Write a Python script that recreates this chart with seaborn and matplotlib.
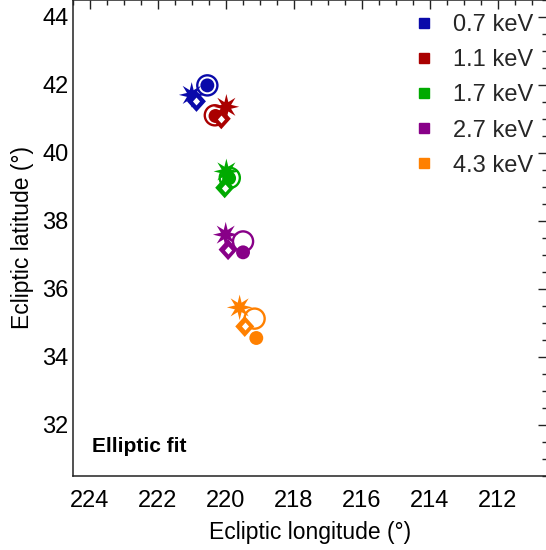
import pandas as pd
import seaborn as sns
import matplotlib.pyplot as plt
from matplotlib.path import Path
from matplotlib.lines import Line2D
from matplotlib.ticker import MultipleLocator

# Positions (ecliptic lon / lat, degrees)
energies = ["0.7 keV", "1.1 keV", "1.7 keV", "2.7 keV", "4.3 keV"]
colors = ["#0a0aaa", "#aa0000", "#00aa00", "#880088", "#ff8000"]

star_lon = [221.00, 219.98, 219.98, 220.00, 219.59]
star_lat = [41.70, 41.35, 39.45, 37.59, 35.45]
diam_lon = [220.86, 220.13, 220.03, 219.93, 219.44]
diam_lat = [41.51, 41.00, 38.97, 37.15, 34.89]
ring_lon = [220.54, 220.32, 219.88, 219.49, 219.15]
ring_lat = [41.98, 41.10, 39.26, 37.39, 35.12]
dot_lon = [220.54, 220.30, 219.90, 219.49, 219.10]
dot_lat = [41.98, 41.08, 39.25, 37.07, 34.55]

df = pd.DataFrame({
    "energy": energies * 4,
    "kind": ["star"] * 5 + ["diamond"] * 5 + ["ring"] * 5 + ["dot"] * 5,
    "lon": star_lon + diam_lon + ring_lon + dot_lon,
    "lat": star_lat + diam_lat + ring_lat + dot_lat,
})
pal = dict(zip(energies, colors))

sns.set_theme(style="white")
plt.rcParams["font.family"] = ["Liberation Sans", "DejaVu Sans"]

fig = plt.figure(figsize=(5.46, 5.5), dpi=100)
ax = fig.add_axes([72.7 / 546, 74.3 / 550, 474.3 / 546, 476 / 550])

star = Path.unit_regular_star(8, 0.4)
diamond = Path([(0, 1), (0.9, 0), (0, -1), (-0.9, 0), (0, 1)], closed=True)

# star
sns.scatterplot(data=df[df.kind == "star"], x="lon", y="lat", hue="energy",
                palette=pal, marker=star, s=340, linewidth=0, legend=False, ax=ax, zorder=3)
# open ring
sns.scatterplot(data=df[df.kind == "ring"], x="lon", y="lat", hue="energy",
                palette=pal, marker="o", s=210, legend=False, ax=ax, zorder=4)
coll = ax.collections[-1]
fc = coll.get_facecolors()
coll.set_edgecolors(fc)
coll.set_facecolors("none")
coll.set_linewidths(1.7)
# filled dot
sns.scatterplot(data=df[df.kind == "dot"], x="lon", y="lat", hue="energy",
                palette=pal, marker="o", s=100, linewidth=0, legend=False, ax=ax, zorder=4)
# diamond: solid body with a small white hole
sns.scatterplot(data=df[df.kind == "diamond"], x="lon", y="lat", hue="energy",
                palette=pal, marker=diamond, s=230, linewidth=0, legend=False, ax=ax, zorder=5)
d = df[df.kind == "diamond"]
ax.scatter(d["lon"], d["lat"], marker=diamond, s=32, color="white", linewidths=0, zorder=6)

ax.set_xlim(224.5, 210.55)
ax.set_ylim(30.5, 44.5)
ax.xaxis.set_major_locator(MultipleLocator(2))
ax.xaxis.set_minor_locator(MultipleLocator(0.5))
ax.yaxis.set_major_locator(MultipleLocator(2))
ax.yaxis.set_minor_locator(MultipleLocator(0.5))
ax.tick_params(which="both", direction="in", top=True, right=True,
               color="#222222", width=1, labelsize=17, labelcolor="black")
ax.tick_params(which="major", length=6.5)
ax.tick_params(which="minor", length=3.5)
ax.tick_params(axis="x", which="major", pad=10)
ax.tick_params(axis="y", which="major", pad=3)
for sp in ax.spines.values():
    sp.set_color("#222222")
    sp.set_linewidth(1.1)

ax.set_xlabel("Ecliptic longitude (°)", fontsize=16.5, color="black", labelpad=7)
ax.set_ylabel("Ecliptic latitude (°)", fontsize=16.5, color="black", labelpad=6)

ax.text(0.04, 0.05, "Elliptic fit", transform=ax.transAxes, fontsize=15,
        fontweight="bold", color="black")

handles = [Line2D([], [], ls="", marker="s", ms=6.5, color=c, label=e)
           for e, c in zip(energies, colors)]
ax.legend(handles=handles, loc="upper right", frameon=False, fontsize=17,
          handletextpad=0.6, handlelength=1.2, labelspacing=0.56,
          borderaxespad=0.2, bbox_to_anchor=(1.0, 1.0))

fig.savefig("out.png", dpi=100)
